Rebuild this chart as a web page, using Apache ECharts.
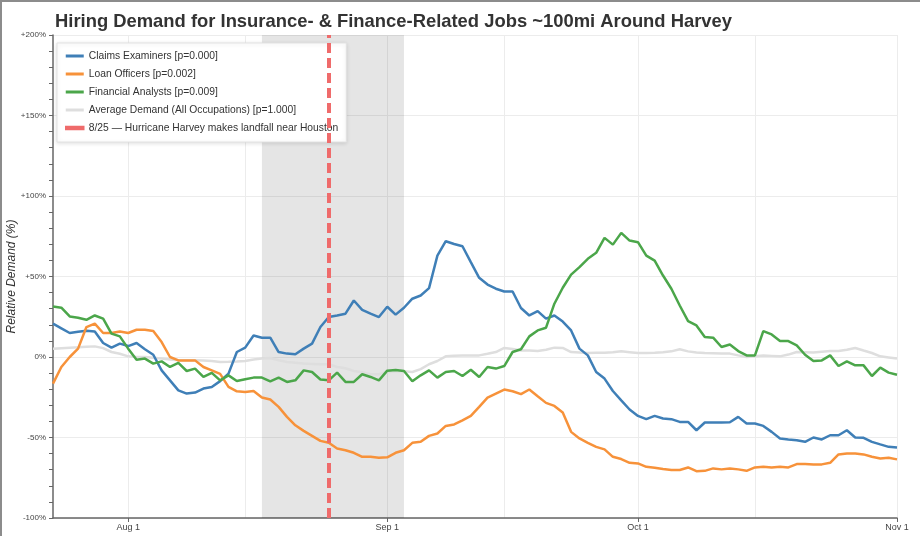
<!DOCTYPE html>
<html>
<head>
<meta charset="utf-8">
<script src="https://cdn.jsdelivr.net/npm/echarts@6/dist/echarts.min.js"></script>
<style>
  html, body { margin: 0; padding: 0; background: #fff; }
  #frame { position: absolute; left: 0; top: 0; width: 920px; height: 536px; box-sizing: border-box; border-top: 2px solid #8c8c8c; border-left: 2px solid #8c8c8c; pointer-events: none; z-index: 10; }
  #chart { width: 920px; height: 536px; }
</style>
</head>
<body>
<div id="chart"></div>
<div id="frame"></div>
<script>
// Month spans for daily categories (Jul 23 .. Nov 1)
const monthSpans = [['Jul', 23, 31], ['Aug', 1, 31], ['Sep', 1, 30], ['Oct', 1, 31], ['Nov', 1, 1]];
const categories = [];
monthSpans.forEach(([m, a, b]) => { for (let d = a; d <= b; d++) categories.push(m + ' ' + d); });

const yTicks = [-100, -50, 0, 50, 100, 150, 200];

const claimsExaminers = [
  20.7, 17.8, 14.9, 15.7, 16.3, 15.9, 8.7, 5.8, 8.3, 6.8,
  8.7, 4.8, 1.4, -8.3, -14.5, -20.7, -22.7, -22.1, -19.6, -18.6,
  -15.0, -10.3, 3.1, 5.8, 13.4, 12.0, 12.0, 3.1, 2.1, 1.7,
  5.2, 8.3, 18.6, 24.8, 25.8, 26.9, 35.1, 29.3, 26.9, 24.8,
  31.2, 26.3, 30.6, 36.2, 38.2, 42.8, 63.0, 71.9, 70.2, 68.8,
  58.9, 49.2, 45.0, 42.4, 40.7, 40.7, 30.4, 25.8, 28.5, 23.8,
  25.8, 22.0, 16.5, 5.2, 1.0, -9.3, -13.4, -21.1, -26.9, -32.6,
  -36.6, -38.6, -36.6, -38.2, -38.6, -40.3, -40.3, -45.5, -40.7, -40.7,
  -40.7, -40.5, -37.2, -41.3, -41.3, -42.8, -46.5, -50.6, -51.2, -51.7,
  -52.7, -50.0, -51.2, -48.6, -48.6, -45.5, -50.0, -50.2, -52.7, -54.3,
  -55.8, -56.2
];

const loanOfficers = [
  -16.5, -6.2, 0.0, 5.2, 18.6, 20.7, 14.9, 14.9, 15.9, 14.9,
  16.9, 16.9, 16.1, 9.3, 0.0, -2.1, -2.1, -2.1, -6.2, -8.3,
  -10.5, -18.6, -21.3, -21.7, -21.1, -25.2, -26.4, -31.0, -37.2, -42.4,
  -45.9, -49.0, -52.1, -53.3, -56.8, -57.9, -59.5, -62.0, -62.0, -62.6,
  -62.3, -59.5, -57.9, -53.3, -52.7, -49.0, -47.5, -42.8, -41.9, -39.3,
  -36.6, -31.0, -25.2, -22.7, -20.2, -21.3, -23.1, -20.2, -24.4, -28.5,
  -30.4, -34.5, -46.5, -50.6, -53.3, -55.8, -57.4, -62.0, -63.4, -65.7,
  -66.1, -68.2, -68.8, -69.6, -70.2, -70.2, -68.6, -70.9, -70.7, -69.2,
  -69.8, -69.2, -69.8, -70.7, -68.6, -68.2, -68.6, -68.2, -68.6, -66.5,
  -66.5, -66.7, -66.7, -65.7, -60.5, -59.9, -59.9, -60.5, -62.0, -63.0,
  -62.6, -63.6
];

const financialAnalysts = [
  31.4, 30.6, 25.2, 24.4, 23.1, 25.8, 23.8, 14.5, 12.8, 5.2,
  -1.7, -1.0, -4.1, -2.7, -6.2, -3.7, -8.7, -7.2, -12.4, -9.9,
  -14.5, -11.4, -14.9, -13.8, -12.8, -12.8, -15.1, -12.8, -15.5, -14.5,
  -8.3, -9.3, -14.0, -14.5, -9.7, -15.5, -15.5, -10.7, -12.4, -14.5,
  -8.5, -8.1, -8.7, -15.1, -11.4, -8.3, -12.8, -9.3, -8.7, -11.8,
  -7.9, -12.4, -6.2, -7.2, -5.6, 3.1, 4.8, 12.8, 16.5, 18.2,
  33.1, 43.0, 51.2, 55.8, 61.0, 64.7, 74.0, 69.8, 77.1, 72.3,
  71.3, 63.0, 59.9, 50.6, 42.4, 32.0, 22.3, 19.6, 12.4, 12.0,
  6.2, 7.8, 3.7, 1.0, 1.0, 16.1, 14.0, 9.9, 9.9, 7.2,
  1.4, -2.5, -2.1, 1.0, -5.6, -2.7, -5.2, -5.2, -11.8, -6.6,
  -9.7, -11.0
];

const averageDemand = [
  5.2, 5.5, 5.8, 6.0, 6.3, 6.6, 5.5, 3.1, 2.0, 0.4,
  0.0, 0.0, -0.5, -1.0, -1.5, -2.0, -2.0, -2.0, -2.2, -2.5,
  -3.1, -3.0, -2.8, -2.5, -1.5, -1.0, -0.6, -2.0, -3.1, -3.5,
  -4.1, -4.3, -4.5, -4.5, -6.2, -7.0, -8.7, -9.5, -10.7, -10.7,
  -9.3, -9.0, -8.9, -9.3, -7.5, -4.5, -2.5, 0.4, 0.8, 1.0,
  1.0, 1.0, 2.0, 3.1, 5.6, 5.0, 4.1, 4.0, 3.7, 4.5,
  5.8, 5.6, 3.1, 2.8, 2.5, 2.6, 2.7, 3.0, 3.5, 3.0,
  2.5, 2.5, 2.7, 3.0, 3.5, 4.8, 3.5, 2.8, 2.5, 2.3,
  2.1, 2.1, 1.0, 0.0, 0.5, 1.0, 0.7, 0.4, 1.5, 3.1,
  3.0, 2.8, 3.3, 3.7, 3.7, 4.5, 5.6, 4.0, 2.5, 0.4,
  -0.3, -1.0
];

const seriesNames = [
  'Claims Examiners [p=0.000]',
  'Loan Officers [p=0.002]',
  'Financial Analysts [p=0.009]',
  'Average Demand (All Occupations) [p=1.000]',
  '8/25 \u2014 Hurricane Harvey makes landfall near Houston'
];
const landfallDay = 'Aug 25';
const shadeRange = ['Aug 17', 'Sep 3'];

const colors = { blue: '#3f7fb7', orange: '#f7923a', green: '#4ba64a', gray: '#dedede', red: '#ef6b6b' };

const dayOf = v => parseInt(String(v).split(' ')[1], 10);

const chart = echarts.init(document.getElementById('chart'), null, { renderer: 'canvas' });

const lineSeries = (name, data, color, z) => ({
  name, type: 'line', data, symbol: 'none', z,
  lineStyle: { color, width: 2.5 }, itemStyle: { color },
  emphasis: { disabled: true }, animation: false
});

chart.setOption({
  animation: false,
  backgroundColor: '#fff',
  title: {
    text: 'Hiring Demand for Insurance- & Finance-Related Jobs ~100mi Around Harvey',
    left: 50, top: 8,
    textStyle: { fontFamily: 'Liberation Sans', fontWeight: 'bold', fontSize: 18.4, color: '#333' }
  },
  grid: { left: 53, right: 23, top: 35, bottom: 18, containLabel: false, outerBoundsMode: 'none' },
  legend: {
    orient: 'vertical', left: 57, top: 43,
    padding: [4, 8, 5, 8],
    itemWidth: 18, itemHeight: 3, itemGap: 0,
    backgroundColor: '#fff', borderColor: '#e2e2e2', borderWidth: 1,
    shadowBlur: 4, shadowColor: 'rgba(0,0,0,0.12)', shadowOffsetY: 1,
    textStyle: { fontFamily: 'Liberation Sans', fontSize: 10.3, color: '#333', lineHeight: 18, padding: [0, 0, 0, 0] },
    selectedMode: false,
    data: [
      { name: seriesNames[0], icon: 'rect', itemStyle: { color: colors.blue } },
      { name: seriesNames[1], icon: 'rect', itemStyle: { color: colors.orange } },
      { name: seriesNames[2], icon: 'rect', itemStyle: { color: colors.green } },
      { name: seriesNames[3], icon: 'rect', itemStyle: { color: colors.gray } },
      { name: seriesNames[4], icon: 'rect', itemStyle: { color: colors.red, borderColor: colors.red, borderWidth: 1.5 } }
    ]
  },
  xAxis: {
    type: 'category', data: categories, boundaryGap: false,
    axisLine: { onZero: false, lineStyle: { color: '#666', width: 1.5 } },
    axisTick: { length: 4, lineStyle: { color: '#666' }, interval: (i, v) => dayOf(v) === 1 },
    axisLabel: { interval: (i, v) => dayOf(v) === 1, fontFamily: 'Liberation Sans', fontSize: 9, color: '#444', margin: 5 },
    splitLine: { show: true, interval: (i, v) => dayOf(v) === 1 || dayOf(v) === 15, lineStyle: { color: '#ececec', width: 1 } }
  },
  yAxis: {
    type: 'value', min: yTicks[0], max: yTicks[yTicks.length - 1], interval: 50,
    name: 'Relative Demand (%)', nameLocation: 'middle', nameGap: 35, nameMoveOverlap: false,
    nameTextStyle: { fontFamily: 'Liberation Sans', fontStyle: 'italic', fontSize: 12, color: '#333' },
    axisLine: { show: true, lineStyle: { color: '#666', width: 1.5 } },
    axisTick: { show: true, length: 4, lineStyle: { color: '#666' } },
    minorTick: { show: true, splitNumber: 5, length: 4, lineStyle: { color: '#666' } },
    axisLabel: { fontFamily: 'Liberation Sans', fontSize: 8, color: '#444', margin: 7,
      formatter: v => (v > 0 ? '+' + v : '' + v) + '%' },
    splitLine: { show: true, lineStyle: { color: '#ececec', width: 1 } }
  },
  series: [
    {
      name: '__shade', type: 'line', data: [], z: 1, silent: true,
      markArea: { silent: true, itemStyle: { color: 'rgba(0,0,0,0.1)' },
        data: [[{ xAxis: shadeRange[0] }, { xAxis: shadeRange[1] }]] }
    },
    lineSeries(seriesNames[3], averageDemand, colors.gray, 2),
    lineSeries(seriesNames[0], claimsExaminers, colors.blue, 3),
    lineSeries(seriesNames[1], loanOfficers, colors.orange, 3),
    lineSeries(seriesNames[2], financialAnalysts, colors.green, 3),
    {
      name: seriesNames[4], type: 'line', data: [], z: 5, itemStyle: { color: colors.red },
      lineStyle: { color: colors.red, width: 4 },
      markLine: {
        silent: true, symbol: ['none', 'none'], label: { show: false },
        lineStyle: { color: colors.red, width: 4, type: [10, 5], opacity: 1 },
        emphasis: { disabled: true },
        data: [{ xAxis: landfallDay }]
      }
    }
  ]
});
</script>
</body>
</html>
